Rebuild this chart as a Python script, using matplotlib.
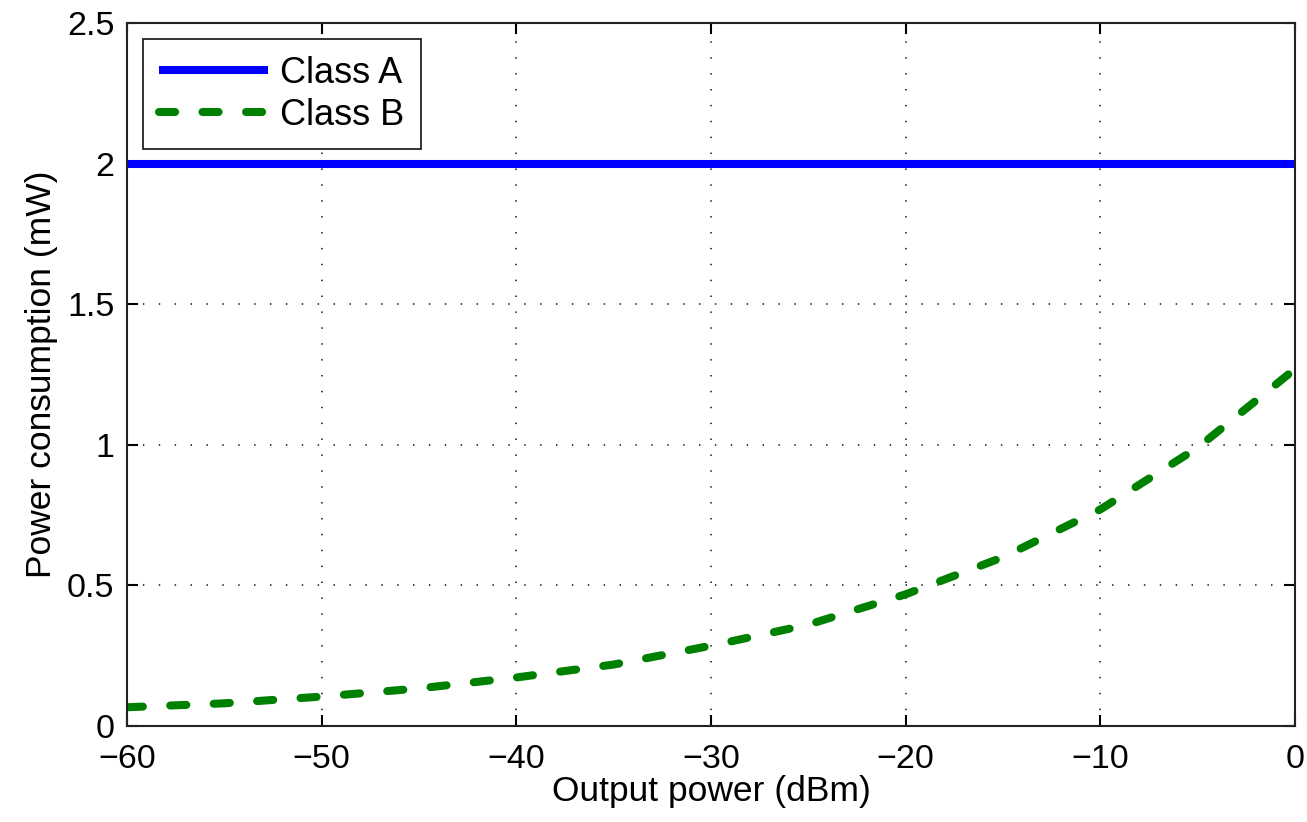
import matplotlib
matplotlib.use("Agg")
import matplotlib.pyplot as plt

# Output power sweep (dBm) and power consumption of the two amplifier classes (mW)
output_power = [-60, -55, -50, -45, -40, -35, -30, -25, -20, -15, -10, -5, 0]
class_a = [2.0, 2.0, 2.0, 2.0, 2.0, 2.0, 2.0, 2.0, 2.0, 2.0, 2.0, 2.0, 2.0]
class_b = [0.066, 0.080, 0.104, 0.133, 0.172, 0.218, 0.285, 0.360, 0.468, 0.600, 0.770, 0.990, 1.270]

x_ticks = [-60, -50, -40, -30, -20, -10, 0]
y_ticks = [0, 0.5, 1, 1.5, 2, 2.5]
y_tick_labels = ["0", "0.5", "1", "1.5", "2", "2.5"]

plt.rcParams["font.family"] = ["Liberation Sans", "DejaVu Sans"]

fig = plt.figure(figsize=(13.07, 8.22), dpi=100)
ax = fig.add_axes([0.097, 0.117, 0.894, 0.855])

lw = 5.8
ax.plot(output_power, class_a, color="#0000ff", linewidth=lw, label="Class A",
        solid_capstyle="butt")
ax.plot(output_power, class_b, color="#008000", linewidth=lw, label="Class B",
        linestyle=(0, (2.0, 3.4)), dash_capstyle="round")

ax.set_xlim(-60, 0)
ax.set_ylim(0, 2.5)
ax.set_xticks(x_ticks)
ax.set_xticklabels([f"\u2212{abs(v)}" if v < 0 else str(v) for v in x_ticks])
ax.set_yticks(y_ticks)
ax.set_yticklabels(y_tick_labels)

# MATLAB-style dotted grid
ax.grid(True, color="#333333", linestyle=(0, (0.8, 8.0)), linewidth=1.3)
ax.tick_params(direction="in", length=8, width=1.5, labelsize=24.5,
               top=True, right=True)
ax.tick_params(axis="x", pad=13)
ax.tick_params(axis="y", pad=9)
for spine in ax.spines.values():
    spine.set_linewidth(1.5)
    spine.set_color("#222222")

ax.set_xlabel("Output power (dBm)", fontsize=25.5, labelpad=0)
ax.set_ylabel("Power consumption (mW)", fontsize=25.5, labelpad=6)

leg = ax.legend(loc="upper left", fontsize=26, frameon=True, fancybox=False,
                edgecolor="#222222", handlelength=3.0, handletextpad=0.35,
                borderpad=0.45, labelspacing=0.2, borderaxespad=0.45,
                framealpha=1.0)
leg.get_frame().set_linewidth(1.3)

fig.savefig("out.png", dpi=100)
